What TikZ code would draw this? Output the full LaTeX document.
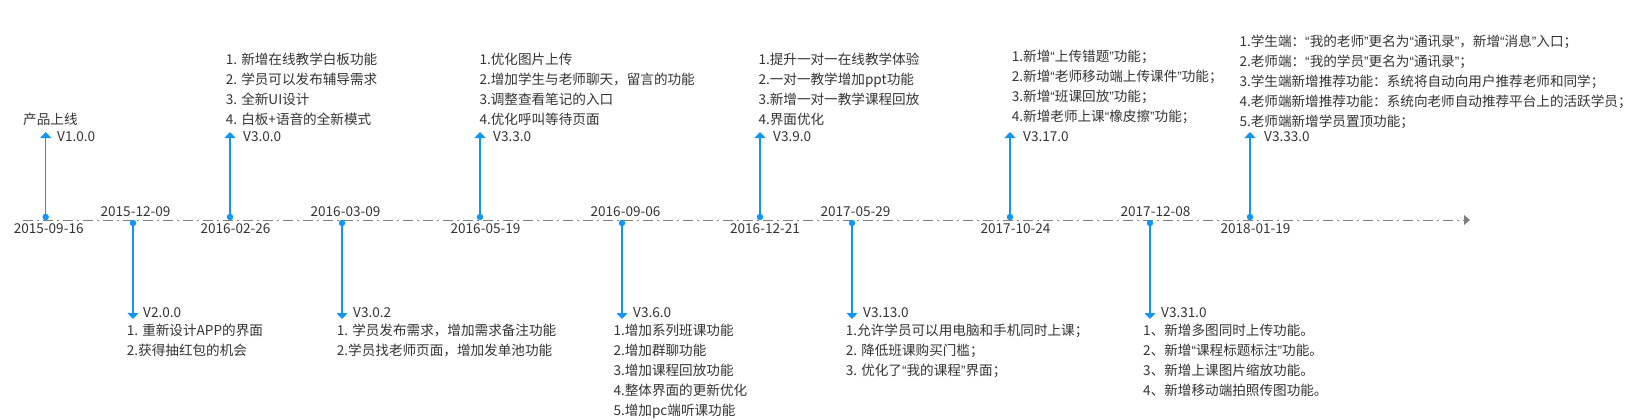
\documentclass[tikz,border=0pt]{standalone}
\usepackage{fontspec}
\setmainfont{Noto Sans CJK SC}
\newfontfamily\quotefont{Liberation Sans}
\newcommand{\openq}{{\quotefont “}}
\newcommand{\closeq}{{\quotefont ”}}
\usetikzlibrary{arrows.meta,positioning}
\definecolor{ReleaseBlue}{HTML}{1396F2}
\definecolor{AxisGray}{HTML}{7F7F7F}
\definecolor{NoteGray}{HTML}{333333}

\begin{document}
\begin{tikzpicture}[x=1pt, y=-1pt, node distance=2.6pt,
    font=\fontsize{13.6}{20}\selectfont, text=NoteGray,
    dot/.style={circle, fill=ReleaseBlue, inner sep=0pt, minimum size=6.5pt},
    release/.style={draw=ReleaseBlue, line width=1.2pt, -{Triangle[width=11pt,length=6pt]}},
    date/.style={inner sep=0pt},
    ver/.style={inner sep=0pt, anchor=west},
    notes/.style={inner sep=0pt, anchor=north west, align=left}]
\useasboundingbox (0,0) rectangle (1644,420);

\coordinate (a0) at (23,220);
\coordinate (a1) at (1470,220);
\draw [AxisGray, line width=0.9pt, dash pattern=on 10pt off 4pt on 2pt off 4pt,
    -{Triangle[width=10pt,length=6pt]}] (a0) -- (a1);

\node [dot] (d1) at (45.7,217) {};
\coordinate (t1) at (45.7,132);
\draw [release] (d1) -- (t1);
\node [date, below=of d1, xshift=3pt] (date1) {2015-09-16};
\node [ver] (v1) at (57,137) {V1.0.0};
\node [notes] (n1) at (23,113) {产品上线};

\node [dot] (d2) at (133,223) {};
\coordinate (t2) at (133,319);
\draw [release] (d2) -- (t2);
\node [date, above=of d2, xshift=2.5pt] (date2) {2015-12-09};
\node [ver] (v2) at (143,313) {V2.0.0};
\node [notes] (n2) at (126.7,324) {1. 重新设计APP的界面\\2.获得抽红包的机会};

\node [dot] (d3) at (230,217) {};
\coordinate (t3) at (230,132);
\draw [release] (d3) -- (t3);
\node [date, below=of d3, xshift=5.5pt] (date3) {2016-02-26};
\node [ver] (v3) at (243,137) {V3.0.0};
\node [notes] (n3) at (225.7,53) {1. 新增在线教学白板功能\\2. 学员可以发布辅导需求\\3. 全新UI设计\\4. 白板+语音的全新模式};

\node [dot] (d4) at (342,223) {};
\coordinate (t4) at (342,319);
\draw [release] (d4) -- (t4);
\node [date, above=of d4, xshift=3.5pt] (date4) {2016-03-09};
\node [ver] (v4) at (353,313) {V3.0.2};
\node [notes] (n4) at (336.7,324) {1. 学员发布需求，增加需求备注功能\\2.学员找老师页面，增加发单池功能};

\node [dot] (d5) at (480,217) {};
\coordinate (t5) at (480,132);
\draw [release] (d5) -- (t5);
\node [date, below=of d5, xshift=5.5pt] (date5) {2016-05-19};
\node [ver] (v5) at (493,137) {V3.3.0};
\node [notes] (n5) at (479.3,53) {1.优化图片上传\\2.增加学生与老师聊天，留言的功能\\3.调整查看笔记的入口\\4.优化呼叫等待页面};

\node [dot] (d6) at (622,223) {};
\coordinate (t6) at (622,319);
\draw [release] (d6) -- (t6);
\node [date, above=of d6, xshift=3.5pt] (date6) {2016-09-06};
\node [ver] (v6) at (633,313) {V3.6.0};
\node [notes] (n6) at (613.3,324) {1.增加系列班课功能\\2.增加群聊功能\\3.增加课程回放功能\\4.整体界面的更新优化\\5.增加pc端听课功能};

\node [dot] (d7) at (760,217) {};
\coordinate (t7) at (760,132);
\draw [release] (d7) -- (t7);
\node [date, below=of d7, xshift=5pt] (date7) {2016-12-21};
\node [ver] (v7) at (773,137) {V3.9.0};
\node [notes] (n7) at (758.3,53) {1.提升一对一在线教学体验\\2.一对一教学增加ppt功能\\3.新增一对一教学课程回放\\4.界面优化};

\node [dot] (d8) at (852,223) {};
\coordinate (t8) at (852,319);
\draw [release] (d8) -- (t8);
\node [date, above=of d8, xshift=3.5pt] (date8) {2017-05-29};
\node [ver] (v8) at (863,313) {V3.13.0};
\node [notes] (n8) at (845.7,324) {1.允许学员可以用电脑和手机同时上课；\\2. 降低班课购买门槛；\\3. 优化了\openq 我的课程\closeq 界面；};

\node [dot] (d9) at (1010,217) {};
\coordinate (t9) at (1010,132);
\draw [release] (d9) -- (t9);
\node [date, below=of d9, xshift=5.5pt] (date9) {2017-10-24};
\node [ver] (v9) at (1023,137) {V3.17.0};
\node [notes] (n9) at (1011.7,50) {1.新增\openq 上传错题\closeq 功能；\\2.新增\openq 老师移动端上传课件\closeq 功能；\\3.新增\openq 班课回放\closeq 功能；\\4.新增老师上课\openq 橡皮擦\closeq 功能；};

\node [dot] (d10) at (1150,223) {};
\coordinate (t10) at (1150,319);
\draw [release] (d10) -- (t10);
\node [date, above=of d10, xshift=5.5pt] (date10) {2017-12-08};
\node [ver] (v10) at (1161,313) {V3.31.0};
\node [notes] (n10) at (1143,324) {1、新增多图同时上传功能。\\2、新增\openq 课程标题标注\closeq 功能。\\3、新增上课图片缩放功能。\\4、新增移动端拍照传图功能。};

\node [dot] (d11) at (1250,217) {};
\coordinate (t11) at (1250,132);
\draw [release] (d11) -- (t11);
\node [date, below=of d11, xshift=5.5pt] (date11) {2018-01-19};
\node [ver] (v11) at (1264,137) {V3.33.0};
\node [notes] (n11) at (1239.3,35) {1.学生端：\openq 我的老师\closeq 更名为\openq 通讯录\closeq ，新增\openq 消息\closeq 入口；\\2.老师端：\openq 我的学员\closeq 更名为\openq 通讯录\closeq ；\\3.学生端新增推荐功能：系统将自动向用户推荐老师和同学；\\4.老师端新增推荐功能：系统向老师自动推荐平台上的活跃学员；\\5.老师端新增学员置顶功能；};
\end{tikzpicture}
\end{document}
